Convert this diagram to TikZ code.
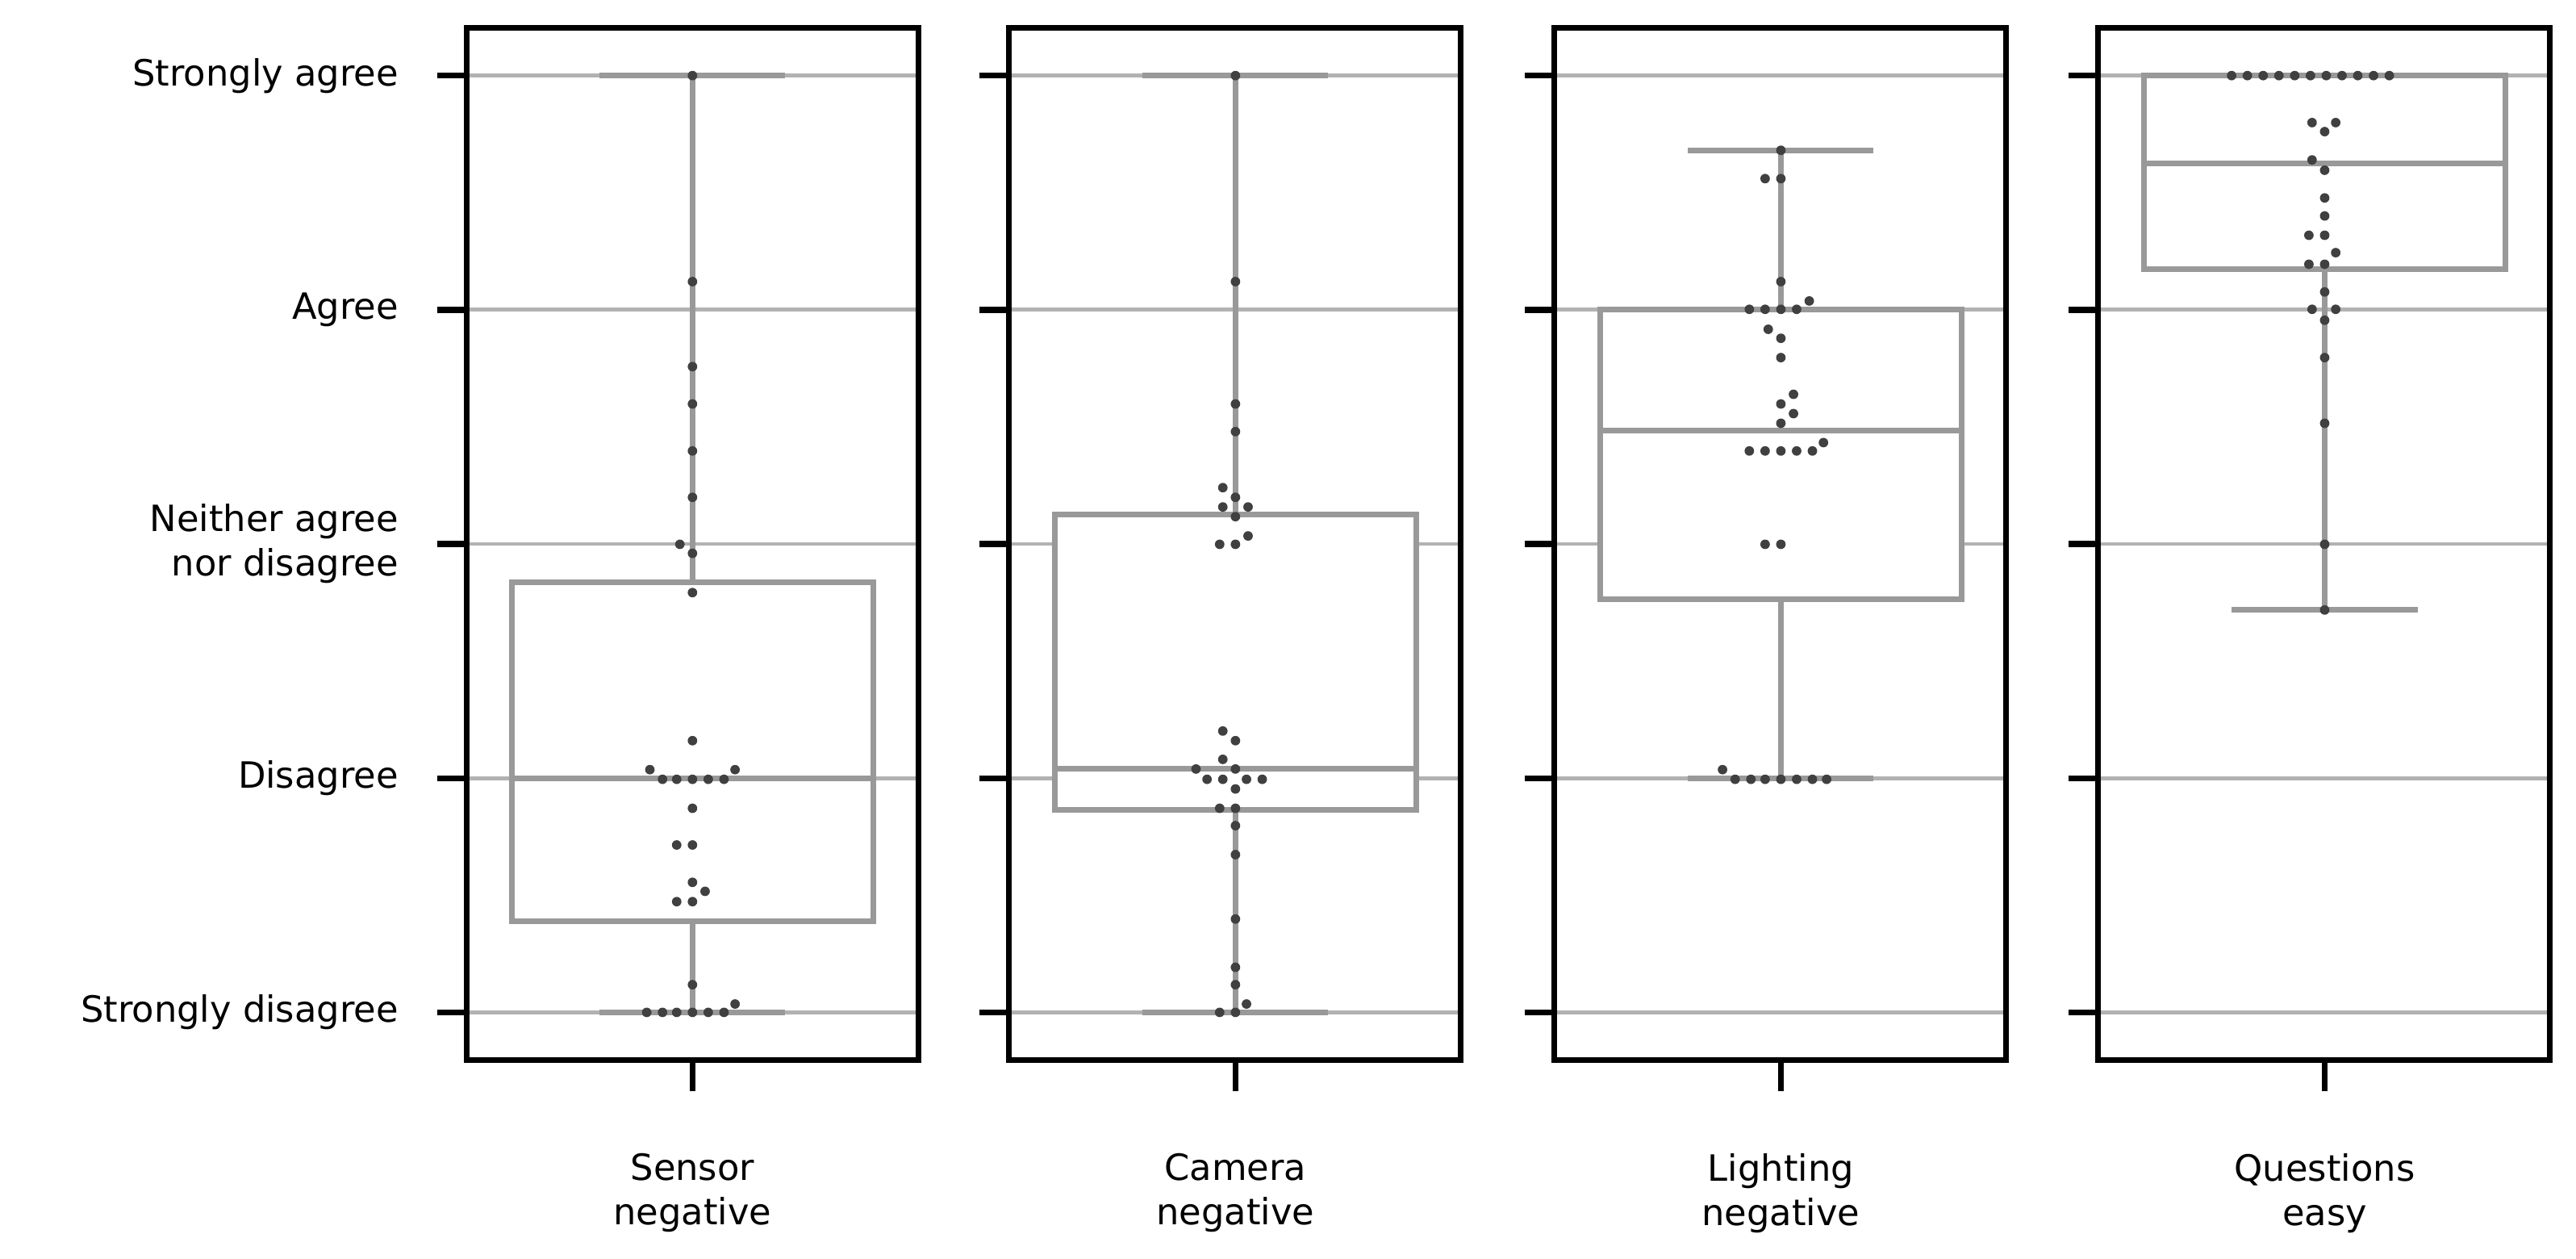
\documentclass[tikz,border=0pt]{standalone}
\usepackage{fontspec}
\setmainfont{DejaVu Sans}
\begin{document}
\begin{tikzpicture}[x=1pt,y=-1pt,
  grid/.style={draw=black!30,line width=2.4pt},
  boxl/.style={draw=black!40,line width=3.4pt},
  frame/.style={draw=black,line width=3.6pt},
  tick/.style={draw=black,line width=3.6pt},
  dot/.style={fill=black!75},
  lab/.style={font=\fontsize{22}{27}\selectfont,align=center}]
\useasboundingbox (0,0) rectangle (1568,766);
% y from level value v (1..5)
\def\Y#1{616-(#1-1)*142.5}
\def\ZY#1{46+(#1-80)*0.39175}
% left labels
\foreach \v/\t in {5/Strongly agree,4/Agree,2/Disagree,1/Strongly disagree}
  \node[lab,anchor=east] (l\v) at (246,{\Y{\v}}) {\t};
\node[lab,anchor=east,align=right] (l3) at (246,{\Y{3}}) {Neither agree\\nor disagree};
% panels
\foreach \L/\C/\name in {284/421.5/Sensor\\negative,614/752/Camera\\negative,946/1084/Lighting\\negative,1277/1415/Questions\\easy}{
  \foreach \v in {1,...,5}{
    \draw[grid] (\L,{\Y{\v}}) -- (\L+275,{\Y{\v}});
    \draw[tick] (\L-18,{\Y{\v}}) -- (\L,{\Y{\v}});
  }
  \draw[tick] (\C,645) -- (\C,664);
  \node[lab] at (\C,726) {\name};
}
% boxes: center, whisker low, q1, median, q3, whisker high
\foreach \C/\wl/\qa/\md/\qb/\wh in {421.5/1/1.39/2/2.836/5, 752/1/1.866/2.04/3.125/5, 1084/2/2.765/3.485/4/4.681, 1415/2.718/4.175/4.626/5/5}{
  \draw[boxl] (\C,{\Y{\wl}}) -- (\C,{\Y{\qa}});
  \draw[boxl] (\C,{\Y{\qb}}) -- (\C,{\Y{\wh}});
  \draw[boxl] (\C-56.5,{\Y{\wl}}) -- (\C+56.5,{\Y{\wl}});
  \draw[boxl] (\C-56.5,{\Y{\wh}}) -- (\C+56.5,{\Y{\wh}});
  \filldraw[boxl,fill=white] (\C-110,{\Y{\qa}}) rectangle (\C+110,{\Y{\qb}});
  \draw[boxl] (\C-110,{\Y{\md}}) -- (\C+110,{\Y{\md}});
}
% dots panel 1
\foreach \z/\s in {80/0,400/0,532/0,590/0,663/0,735/0,808/-0.8,822/0,883/0,1113/0,1158/-2.7,1158/2.7,
  1173/-1.9,1173/-1,1173/0,1173/1,1173/2,1218/0,1275/-1,1275/0,1333/0,1347/0.8,1363/-1,1363/0,1492/0,
  1535/-2.9,1535/-1.9,1535/-1,1535/0,1535/1,1535/2,1522/2.7}
  \fill[dot] (421.5+\s*9.6,{\ZY{\z}}) circle (2.9);
% panel 2
\foreach \z/\s in {80/0,400/0,590/0,633/0,720/-0.8,735/0,750/-0.8,750/0.8,765/0,795/0.8,808/-1,808/0,
  1098/-0.8,1113/0,1142/-0.8,1157/-2.5,1157/0,1173/-1.8,1173/-0.8,1173/0.7,1173/1.7,1188/0,1218/-1,1218/0,
  1245/0,1290/0,1390/0,1465/0,1492/0,1522/0.7,1535/-1,1535/0}
  \fill[dot] (752+\s*9.6,{\ZY{\z}}) circle (2.9);
% panel 3
\foreach \z/\s in {196/0,240/-1,240/0,400/0,430/1.8,443/-2,443/-1,443/0,443/1,474/-0.8,488/0,518/0,
  575/0.8,590/0,605/0.8,620/0,650/2.7,663/-2,663/-1,663/0,663/1,663/2,808/-1,808/0,1158/-3.7,
  1173/-2.9,1173/-1.9,1173/-1,1173/0,1173/1,1173/2,1173/2.9}
  \fill[dot] (1084+\s*9.6,{\ZY{\z}}) circle (2.9);
% panel 4
\foreach \s in {-5.9,-4.9,...,5}
  \fill[dot] (1415+\s*9.6,{\ZY{80}}) circle (2.9);
\foreach \z/\s in {153/-0.8,153/0.7,167/0,211/-0.8,227/0,270/0,298/0,328/-1,328/0,355/0.7,373/-1,373/0,
  416/0,443/-0.8,443/0.7,460/0,518/0,620/0,808/0,910/0}
  \fill[dot] (1415+\s*9.6,{\ZY{\z}}) circle (2.9);
% frames
\foreach \L in {284,614,946,1277}
  \draw[frame] (\L,17) rectangle (\L+275,645);
\end{tikzpicture}
\end{document}
